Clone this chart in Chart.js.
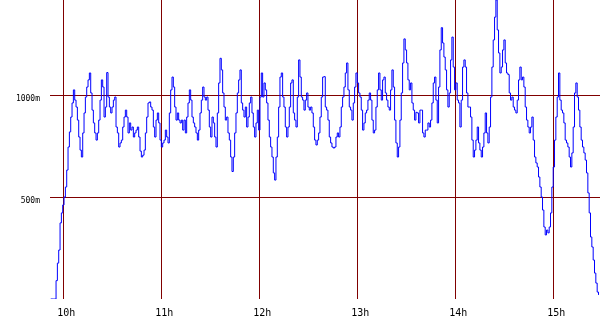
<!DOCTYPE html>
<html>
<head>
    <title>Load</title>
    <script src="https://cdn.jsdelivr.net/npm/chart.js"></script>
    <style>
        body {
            margin: 0;
            background-color: #ffffff;
        }
        canvas {
            display: block;
        }
    </style>
</head>
<body>
    <canvas id="graph" width="600" height="330"></canvas>
    <script>
        // readings in m (thousandths), one every stepMin minutes starting at startMin
        const startMin = 592.3;
        const stepMin = 0.816;

        const seg1 = [0, 0, 0, 0, 90, 176, 240, 373, 422, 461, 500, 549, 632, 745, 819, 892, 961, 1025,
            975, 941, 877, 794, 730, 696, 814, 912, 990, 1039, 1074, 1108, 1010, 926, 863, 814, 779, 814, 877, 975, 1074, 1039, 892, 941, 1110,
            990, 941, 912, 941, 975, 990, 843, 814, 745, 765, 779, 843, 892, 926, 892, 814, 863, 828, 843, 794, 814, 828, 843, 794,
            725, 696, 705];
        const seg2 = [730, 814, 892, 961, 966, 941, 926, 843, 794, 877, 912, 863, 779, 745, 765, 779, 828, 794, 765, 912, 1025, 1088, 1039,
            941, 877, 912, 877, 863, 877, 828, 877, 814, 892, 961, 1025, 975, 892, 863, 843, 814, 779, 828, 912, 975, 1039, 990, 975, 990,
            926, 843, 794, 892, 863, 794, 745, 912, 1059, 1180, 1123, 1010, 941, 877, 892, 814, 779, 696, 625];
        const seg3 = [696, 814, 912, 1010, 1074, 1123, 961, 926, 892, 941, 843, 892, 961, 990, 912, 843, 794, 863, 926, 828, 990, 1108,
            990, 1059, 1025, 961, 877, 794, 745, 696, 618, 583, 696, 794, 941, 1088, 1108, 990, 941, 843, 794, 843, 941, 1059, 1074, 912,
            877, 843, 990, 1172, 1088, 990, 975, 926, 975, 1010, 941, 926, 941, 912, 843, 779, 755, 779, 814, 892, 990, 1088];
        const seg4 = [1090, 941, 926, 877, 794, 765, 745, 740, 745, 794, 814, 794, 843, 941, 990, 1039, 1108, 1157, 1025, 941, 926, 877,
            961, 1039, 1108, 1059, 1010, 990, 926, 828, 863, 912, 926, 975, 1010, 975, 877, 814, 828, 941, 1025, 1108, 1025, 975, 1074,
            1088, 1010, 975, 941, 926, 1025, 1123, 1039, 877, 765, 696, 745, 877, 1010, 1157, 1275, 1221, 1157, 1074, 1025, 1059, 961,
            926, 877, 915];
        const seg5 = [912, 863, 926, 926, 814, 794, 828, 828, 863, 843, 877, 961, 1059, 1088, 975, 863, 1039, 1221, 1330, 1255, 1186,
            1123, 1025, 941, 1010, 1172, 1284, 1137, 1025, 1059, 975, 961, 843, 975, 1137, 1172, 1137, 1010, 941, 941, 892, 779, 696, 730,
            779, 843, 765, 730, 696, 745, 814, 912, 814, 765, 843, 990, 1137, 1270, 1382, 1466, 1319, 1206, 1108, 1137, 1221, 1270, 1157, 1108];
        const seg6 = [1100, 1010, 975, 990, 941, 926, 912, 975, 1074, 1137, 1074, 1088, 1039, 941, 877, 843, 814, 843, 892, 779, 696, 667,
            647, 598, 549, 500, 436, 353, 314, 338, 324, 353, 422, 549, 647, 779, 892, 990, 1108, 975, 926, 912, 863, 779, 765, 745, 696,
            647, 716, 843, 1010, 1059, 990, 926, 843, 779, 745, 716, 681, 618, 520, 422, 304, 255, 191, 127, 78, 34, 20];

        const hourTicks = [10, 11, 12, 13, 14, 15];
        const valueTicks = [500, 1000];

        const values = [...seg1, ...seg2, ...seg3, ...seg4, ...seg5, ...seg6];
        const points = values.map((v, i) => ({ x: startMin + i * stepMin, y: v }));

        const gridColor = '#800000';
        const mono = 'DejaVu Sans Mono';

        new Chart(document.getElementById('graph'), {
            type: 'line',
            data: {
                datasets: [{
                    data: points,
                    borderColor: '#0000ff',
                    borderWidth: 1,
                    pointRadius: 0,
                    stepped: true,
                    fill: false
                }]
            },
            options: {
                responsive: false,
                animation: false,
                layout: { padding: 0 },
                plugins: {
                    legend: { display: false },
                    tooltip: { enabled: false }
                },
                scales: {
                    x: {
                        type: 'linear',
                        min: 591.86,
                        max: 928.59,
                        afterBuildTicks: scale => {
                            scale.ticks = hourTicks.map(h => ({ value: h * 60 }));
                        },
                        afterFit: scale => {
                            scale.height = 31;
                            scale.paddingLeft = 0;
                            scale.paddingRight = 0;
                        },
                        border: { display: false },
                        grid: { color: gridColor, lineWidth: 1, drawTicks: false },
                        ticks: {
                            color: '#000000',
                            font: { family: mono, size: 10 },
                            padding: 8,
                            labelOffset: 3,
                            maxRotation: 0,
                            callback: v => (v / 60) + 'h'
                        }
                    },
                    y: {
                        min: 0,
                        max: 1465.7,
                        afterBuildTicks: scale => {
                            scale.ticks = valueTicks.map(v => ({ value: v }));
                        },
                        afterFit: scale => {
                            scale.width = 50;
                            scale.paddingTop = 0;
                            scale.paddingBottom = 0;
                        },
                        border: { display: false },
                        grid: { color: gridColor, lineWidth: 1, drawTicks: false },
                        ticks: {
                            color: '#000000',
                            font: { family: mono, size: 8 },
                            padding: 10,
                            labelOffset: 4,
                            callback: v => v + 'm'
                        }
                    }
                }
            }
        });
    </script>
</body>
</html>
